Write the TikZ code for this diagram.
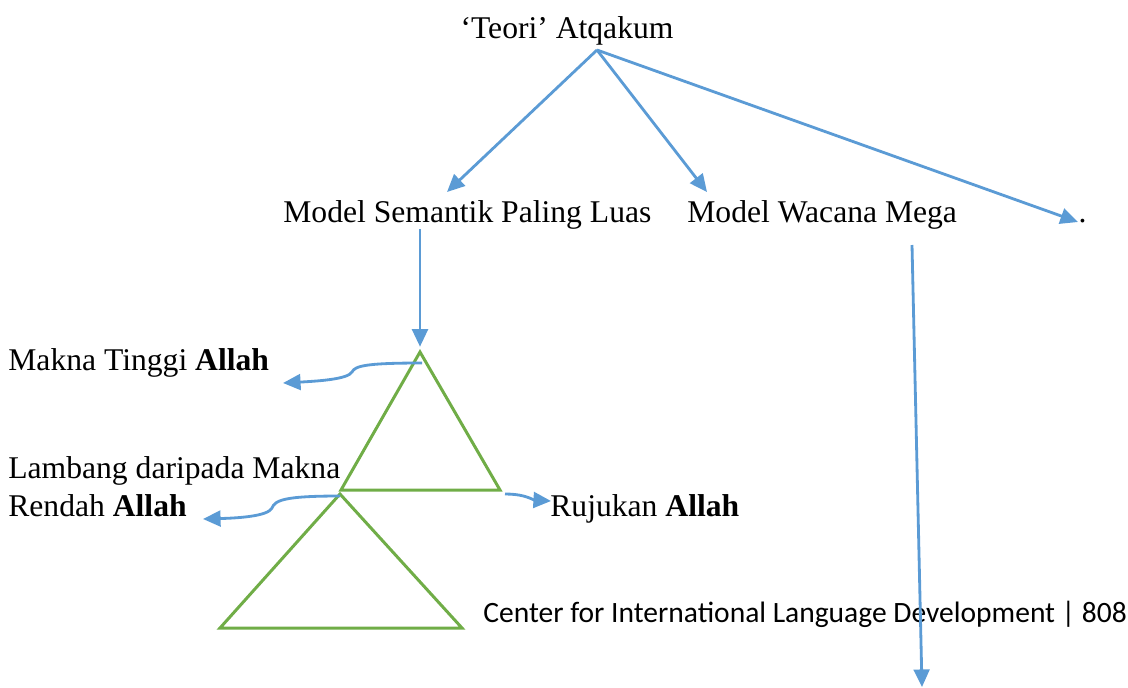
\documentclass[tikz,border=0pt]{standalone}
\usepackage{fontspec}
\setmainfont{Liberation Serif}
\newfontfamily\footfont{Carlito}
\usetikzlibrary{arrows.meta}
\definecolor{lineblue}{HTML}{5B9BD5}
\definecolor{trigreen}{HTML}{70AD47}

\begin{document}
\begin{tikzpicture}[
        x=0.02cm, y=-0.02cm,
        arrow/.style={-{Triangle[length=10pt,width=9pt]}, line width=1.6pt, draw=lineblue},
        tri/.style={draw=trigreen, line width=1.7pt},
        txt/.style={font=\fontsize{18}{21.5}\selectfont, inner sep=0pt},
        every node/.style={anchor=base west}
        ]
        \useasboundingbox (0,0) rectangle (1128,687);
        \node[txt, anchor=base] (teori) at (567,38) {‘Teori’ Atqakum};
        \node[txt] (sem) at (283,222) {Model Semantik Paling Luas};
        \node[txt] (mega) at (687,222) {Model Wacana Mega};
        \node[txt] (dots) at (1058,222) {.\hspace{7pt}.};
        \node[txt] (tinggi) at (8,370) {Makna Tinggi \textbf{Allah}};
        \node[txt, align=left] (rendah) at (8,516) {Lambang daripada Makna\\Rendah \textbf{Allah}};
        \node[txt] (rujukan) at (550,516) {Rujukan \textbf{Allah}};
        \node[font=\footfont\fontsize{16.8}{20}\selectfont, inner sep=0pt] (foot) at (483,622) {Center for International Language Development | 808};
        \coordinate (fork) at (597,50);
        \coordinate (s1) at (447,192);
        \coordinate (s2) at (707,192);
        \coordinate (s3) at (1078,222);
        \foreach \t in {s1,s2,s3} {
            \draw[arrow] (fork) -- (\t);
        }
        \coordinate (apexA) at (420,352);
        \coordinate (apexB) at (340,494);
        \draw[tri] (apexA) -- (500,490) -- (341,490) -- cycle;
        \draw[tri] (apexB) -- (462,628) -- (220,628) -- cycle;
        \draw[arrow, shorten >=3pt] (sem.south -| apexA) -- (apexA);
        \coordinate (down) at (922,687);
        \draw[arrow] (912,245) -- (down);
        \coordinate (t1) at (283,383);
        \coordinate (t2) at (203,519);
        \coordinate (t3) at (551,501);
        \draw[arrow] (422,363) .. controls (365,363) and (355,366) .. (352,372) .. controls (348,379) and (320,381) .. (t1);
        \draw[arrow] (apexB) ++(0,2) .. controls (285,496) and (275,500) .. (272,508) .. controls (268,516) and (240,518) .. (t2);
        \draw[arrow] (505,494) .. controls (520,494) and (528,497) .. (534,500) -- (t3);
    \end{tikzpicture}
\end{document}
